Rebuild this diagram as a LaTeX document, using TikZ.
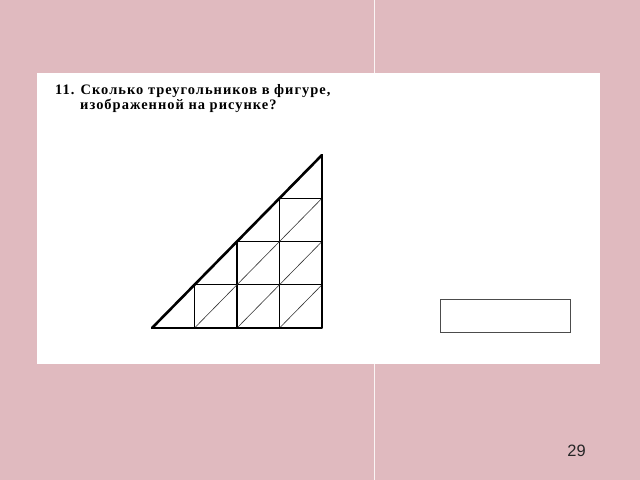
\documentclass[tikz,border=0pt]{standalone}
\usepackage{fontspec}
\setmainfont{Liberation Serif}
\newfontfamily\titlefont[LetterSpace=7]{Liberation Serif}
\newfontfamily\numfont{Liberation Sans}
\definecolor{bgpink}{RGB}{224,186,191}
\begin{document}
\begin{tikzpicture}[x=1bp,y=-1bp,
  titletext/.style={anchor=base west, inner sep=0pt, font=\titlefont\bfseries\fontsize{14.5}{16}\selectfont},
  outer/.style={line width=1.8bp, line cap=round, line join=round},
  hypo/.style={line width=2.6bp, line cap=round},
  gridline/.style={line width=1.3bp},
  diag/.style={line width=0.6bp, black!80}]
\useasboundingbox (0,0) rectangle (640,480);
\fill[bgpink] (0,0) rectangle (640,480);
\draw[white!85!bgpink, line width=1.2bp] (374.5,0) -- (374.5,480);
\fill[white] (37,73) rectangle (600,364);
% title
\node[titletext] (t1) at (55,95) {11. Сколько треугольников в фигуре,};
\node[titletext] (t2) at (80,109.5) {изображенной на рисунке?};
% triangle geometry
\def\xa{152}\def\xb{322}\def\yb{328}\def\yt{155}
\pgfmathsetmacro{\cw}{(\xb-\xa)/4}
\pgfmathsetmacro{\ch}{(\yb-\yt)/4}
% grid lines
\foreach \r in {1,2,3}{
  \draw[gridline] ({\xa+\r*\cw},\yb) -- ({\xa+\r*\cw},{\yb-\r*\ch});
  \draw[gridline] ({\xa+\r*\cw},{\yb-\r*\ch}) -- (\xb,{\yb-\r*\ch});
}
% diagonals
\foreach \k in {1,2,3}{
  \foreach \r in {1,...,\k}{
    \draw[diag] ({\xa+\k*\cw},{\yb-(\r-1)*\ch}) -- ({\xa+(\k+1)*\cw},{\yb-\r*\ch});
  }
}
\coordinate (A) at (\xa,\yb);
\coordinate (B) at (\xb,\yb);
\coordinate (C) at (\xb,\yt);
\draw[outer] (A) -- (B) -- (C);
\draw[hypo] (A) -- (C);
% answer box
\node[draw=black!70, line width=0.9bp, minimum width=130bp, minimum height=33bp, inner sep=0pt] (ans) at (505,315.5) {};
% page number
\node[font=\numfont\fontsize{16.5}{18}\selectfont, text=black!85, inner sep=0pt] (pg) at (576.5,451) {29};
\end{tikzpicture}
\end{document}
